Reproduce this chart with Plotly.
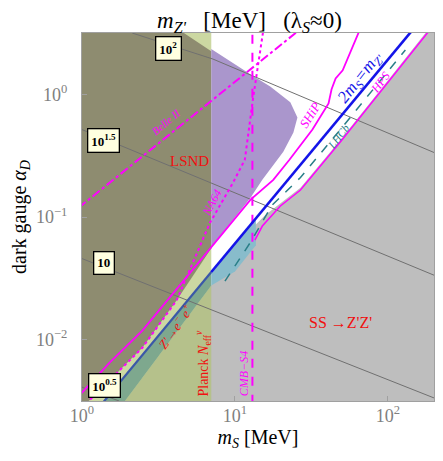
import numpy as np
import plotly.graph_objs as go

#####################
#   DATA (MeV, a_D) #
#####################

# axis limits: m_S in MeV, alpha_D dimensionless
ms_lim = [1.0, 200.0]
alpha_lim = [10**-2.5, 10**0.5]

# SS -> Z'Z' excluded region (grey)
gray_ms = [1.85, 7.0, 12.6, 15.8, 26.8, 49.1, 89.9, 164.8, 180.6, 210, 210]
gray_alpha = [0.003, 0.0277, 0.0782, 0.104, 0.173, 0.428, 1.10, 2.82, 3.3, 3.3, 0.003]

# Planck N_eff bound: m_S below 7 MeV
planck_ms = [0.95, 7.0, 7.0, 0.95]
planck_alpha = [0.003, 0.003, 3.3, 3.3]

# dark olive region, upper left
olive_ms = [0.95, 4.4, 7.0, 7.0, 4.15, 2.48, 1.06, 0.95]
olive_alpha = [3.3, 3.3, 2.25, 0.0557, 0.0209, 0.00859, 0.003, 0.003]

# purple region right of 7 MeV
purple_ms = [7.0, 9.27, 12.6, 17.0, 23.0, 25.6, 24.1, 20.7, 17.0, 15.1, 12.6, 7.0]
purple_alpha = [2.34, 1.86, 1.46, 1.16, 0.86, 0.648, 0.488, 0.341, 0.243, 0.201, 0.143, 0.0568]

# Z' -> e- e+ band, split at the Planck edge
green_ms = [1.35, 7.0, 7.0, 1.85]
green_alpha = [0.003, 0.0356, 0.0277, 0.003]
teal_ms = [7.0, 13.7, 13.7, 10.0, 7.0]
teal_alpha = [0.0356, 0.0974, 0.0589, 0.036, 0.0277]

# 2 m_S = m_Z' line
blue_low_ms = [1.35, 7.0]
blue_low_alpha = [0.003, 0.0356]
blue_high_ms = [7.0, 142.0]
blue_high_alpha = [0.0356, 3.25]

# experiment reaches
ship_ms = [0.95, 1.51, 2.48, 3.74, 12.6, 17.8, 22.7, 32.1, 40.9, 42.8, 45.5, 50.6, 64.4]
ship_alpha = [0.00345, 0.00648, 0.01186, 0.0221, 0.138, 0.201, 0.293, 0.516, 0.844, 1.10, 1.35, 1.57, 3.2]

na64_ms = [1.06, 2.48, 4.15, 6.85, 9.70, 11.6, 13.1, 15.3]
na64_alpha = [0.003, 0.00859, 0.0209, 0.0893, 0.190, 0.293, 0.910, 3.3]

belle_ms = [0.95, 25.2]
belle_alpha = [0.119, 3.2]

cmbs4_ms = [13.0, 13.0]
cmbs4_alpha = [0.003, 3.3]

hps_ms = [13.5, 15.1, 19.8, 26.8, 49.1, 89.9, 160.0, 186.0]
hps_alpha = [0.0648, 0.0844, 0.123, 0.166, 0.412, 1.06, 2.62, 3.3]

lhcb_ms = [8.6, 12.6, 17.5, 26.8, 49.1, 89.9, 130.0]
lhcb_alpha = [0.030, 0.062, 0.125, 0.21, 0.52, 1.32, 2.3]

# contours of constant m_Z' [MeV]
mzp_labels = ["10<sup>0.5</sup>", "10", "10<sup>1.5</sup>", "10<sup>2</sup>"]
mzp_ms = [[0.95, 1.75], [0.95, 210], [0.95, 210], [2.13, 7.17, 210]]
mzp_alpha = [[0.0042, 0.00316], [0.047, 0.00327], [0.53, 0.0327], [3.16, 1.94, 0.327]]

#####################
#  UTILS FUNCTIONS  #
#####################

MAGENTA = "#ff00ff"
RED = "#f01010"
SERIF = "Liberation Serif"


def add_region(fig: go.Figure, ms: list, alpha: list, color: str) -> None:
    """Adds a filled polygon (no outline) to the figure."""
    fig.add_trace(
        go.Scatter(
            x = ms,
            y = alpha,
            mode = "lines",
            fill = "toself",
            fillcolor = color,
            line = {"width": 0},
            hoverinfo = "skip"
        )
    )


def add_curve(fig: go.Figure, ms: list, alpha: list, color: str, width: float, dash: str = "solid") -> None:
    """Adds a plain line to the figure."""
    fig.add_trace(
        go.Scatter(
            x = ms,
            y = alpha,
            mode = "lines",
            line = {"color": color, "width": width, "dash": dash},
            hoverinfo = "skip"
        )
    )


def add_label(fig: go.Figure, text: str, ms: float, alpha: float, color: str,
              size: int, angle: float = 0, box: bool = False) -> None:
    """Adds a text label in data coordinates (log axes)."""
    extra = {}
    if box:
        extra = {"bgcolor": "#ffffe0", "bordercolor": "black", "borderwidth": 1.3, "borderpad": 3}
    fig.add_annotation(
        x = np.log10(ms),
        y = np.log10(alpha),
        text = text,
        showarrow = False,
        textangle = angle,
        font = {"family": SERIF, "size": size, "color": color},
        **extra
    )

#####################
#      FIGURE       #
#####################

fig = go.Figure()

# filled regions, back to front
add_region(fig, gray_ms, gray_alpha, "#bebebe")
add_region(fig, planck_ms, planck_alpha, "rgba(177,195,112,0.65)")
add_region(fig, olive_ms, olive_alpha, "#8e8c70")
add_region(fig, purple_ms, purple_alpha, "#aa96cc")
add_region(fig, green_ms, green_alpha, "#7ea88e")
add_region(fig, teal_ms, teal_alpha, "#88bccb")

# m_Z' contours
for ms, alpha in zip(mzp_ms, mzp_alpha):
    add_curve(fig, ms, alpha, "#707070", 1)

# experimental curves
add_curve(fig, belle_ms, belle_alpha, MAGENTA, 2, "dashdot")
add_curve(fig, na64_ms, na64_alpha, MAGENTA, 2, "dot")
add_curve(fig, cmbs4_ms, cmbs4_alpha, MAGENTA, 2, "dash")
add_curve(fig, lhcb_ms, lhcb_alpha, "#2a7f88", 1.5, "dash")
add_curve(fig, hps_ms, hps_alpha, MAGENTA, 1.5)
add_curve(fig, ship_ms, ship_alpha, MAGENTA, 1.8)

# 2 m_S = m_Z'
add_curve(fig, blue_low_ms, blue_low_alpha, "#3a58a8", 2.2)
add_curve(fig, blue_high_ms, blue_high_alpha, "#1414e8", 2.6)

# boxed m_Z' values
add_label(fig, "<b>" + mzp_labels[0] + "</b>", 1.396, 0.0042, "black", 13, box=True)
add_label(fig, "<b>" + mzp_labels[1] + "</b>", 1.396, 0.042, "black", 13, box=True)
add_label(fig, "<b>" + mzp_labels[2] + "</b>", 1.374, 0.42, "black", 13, box=True)
add_label(fig, "<b>" + mzp_labels[3] + "</b>", 3.68, 2.38, "black", 13, box=True)

# region / experiment names
add_label(fig, "<i>Belle II</i>", 3.52, 0.60, MAGENTA, 11, -40)
add_label(fig, "LSND", 5.06, 0.288, RED, 15)
add_label(fig, "<i>NA64</i>", 7.06, 0.130, MAGENTA, 12, -62)
add_label(fig, "<i>SHiP</i>", 31.1, 0.685, MAGENTA, 13, -58)
add_label(fig, "<i>2m<sub>S</sub>=m<sub>Z'</sub></i>", 66.4, 1.35, "#1414e8", 17, -52)
add_label(fig, "<i>LHCb</i>", 46.9, 0.453, "#2a7f88", 11, -52)
add_label(fig, "<i>HPS</i>", 89.9, 1.25, MAGENTA, 12, -52)
add_label(fig, "SS →Z'Z'", 49.1, 0.0138, RED, 16)
add_label(fig, "<i>Z'→e<sup>−</sup> e<sup>+</sup></i>", 4.03, 0.0128, RED, 13, -55)
add_label(fig, "Planck <i>N</i><sub>eff</sub><sup><i>ν</i></sup>", 6.15, 0.00647, RED, 14, -90)
add_label(fig, "<i>CMB−S4</i>", 11.5, 0.00526, MAGENTA, 12, -90)

axis_style = dict(
    type = "log",
    automargin = False,
    showgrid = False,
    zeroline = False,
    showline = True,
    mirror = True,
    linecolor = "#a0a0a0",
    linewidth = 1,
    ticks = "inside",
    ticklen = 5,
    tickcolor = "#a0a0a0",
    tickfont = {"family": SERIF, "size": 18, "color": "#808080"},
)

fig.update_xaxes(
    range = [np.log10(ms_lim[0]), np.log10(ms_lim[1])],
    tickvals = [1, 10, 100],
    ticktext = ["10<sup>0</sup>", "10<sup>1</sup>", "10<sup>2</sup>"],
    ticklabelstandoff = -2,
    title = {"text": "<i>m</i><sub><i>S</i></sub> [MeV]", "font": {"family": SERIF, "size": 20, "color": "black"}, "standoff": 4},
    **axis_style
)
fig.update_yaxes(
    range = [np.log10(alpha_lim[0]), np.log10(alpha_lim[1])],
    tickvals = [0.01, 0.1, 1],
    ticktext = ["10<sup>−2</sup>", "10<sup>−1</sup>", "10<sup>0</sup>"],
    ticklabelstandoff = 10,
    title = {"text": "dark gauge <i>α</i><sub><i>D</i></sub>", "font": {"family": SERIF, "size": 20, "color": "black"}, "standoff": 4},
    **axis_style
)

# page body adds ~8 px around the figure, so the figure is made that much smaller
fig.update_layout(
    width = 435,
    height = 453,
    margin = {"l": 74, "r": 9, "t": 25, "b": 60},
    plot_bgcolor = "white",
    paper_bgcolor = "white",
    showlegend = False,
    title = {
        "text": "<i>m</i><sub><i>Z'</i></sub>&nbsp;&nbsp;&nbsp;[MeV]&nbsp;&nbsp;&nbsp;(λ<sub><i>S</i></sub>≈0)",
        "x": 0.555,
        "xanchor": "center",
        "y": 0.973,
        "yanchor": "middle",
        "font": {"family": SERIF, "size": 23, "color": "black"}
    }
)

fig.write_html("out.html")
